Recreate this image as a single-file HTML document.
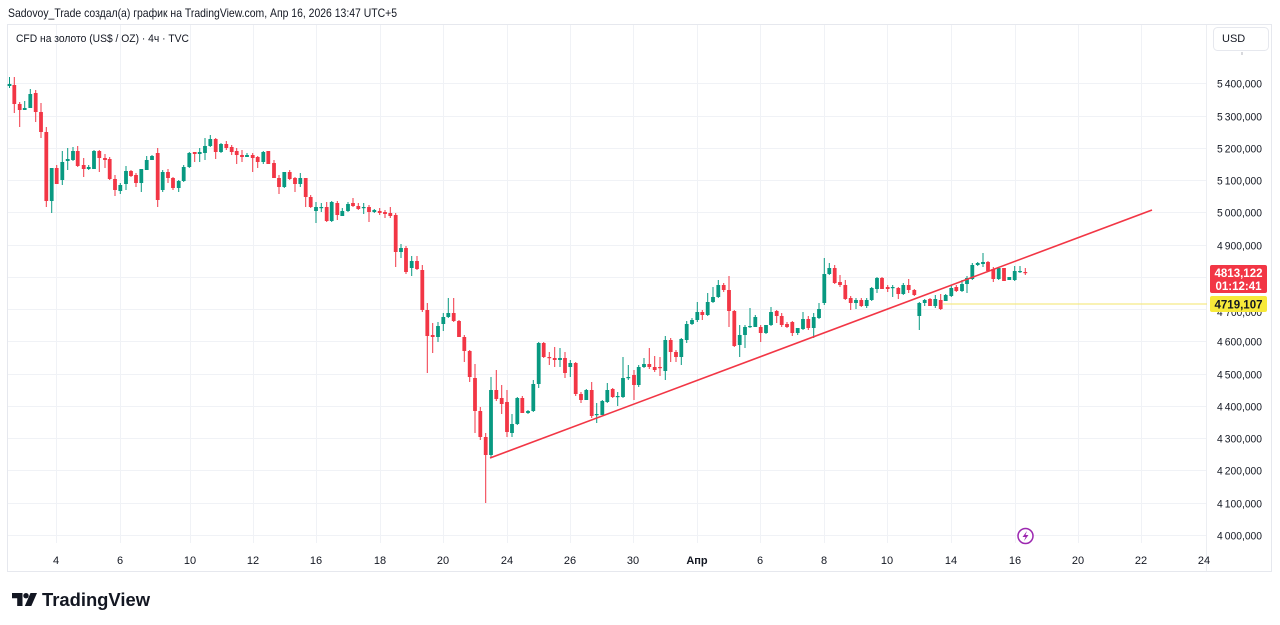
<!DOCTYPE html>
<html><head><meta charset="utf-8"><style>
html,body{margin:0;padding:0;background:#fff;}
svg{display:block;font-family:"Liberation Sans","Noto Sans CJK SC",sans-serif;}
</style></head><body>
<svg id="c" width="1280" height="625" viewBox="0 0 1280 625" xmlns="http://www.w3.org/2000/svg">
<rect width="1280" height="625" fill="#fff"/>
<text x="8" y="17" font-size="12" fill="#131722" textLength="389" lengthAdjust="spacingAndGlyphs">Sadovoy_Trade создал(а) график на TradingView.com, Апр 16, 2026 13:47 UTC+5</text>
<rect x="7.5" y="24.5" width="1264" height="547" fill="none" stroke="#e6e8ee"/>
<g id="grid" stroke="#f0f2f6" stroke-width="1"></g>
<line x1="1206.5" y1="25" x2="1206.5" y2="571" stroke="#eceef2"/>
<text x="16" y="42" font-size="11" fill="#131722" textLength="173" lengthAdjust="spacingAndGlyphs">CFD на золото (US$ / OZ) · 4ч · TVC</text>
<g id="plabels" font-size="11" fill="#131722"></g>
<g id="tlabels" font-size="11" fill="#131722" text-anchor="middle"></g>
<line x1="943" y1="304" x2="1207" y2="304" stroke="#f3e66a" stroke-width="1"/>
<g id="candles"></g>
<line x1="490" y1="458" x2="1152" y2="210" stroke="#f23645" stroke-width="1.6"/>
<rect x="1213.5" y="27.5" width="55" height="23" rx="4" fill="#fff" stroke="#e6e8ee"/>
<text x="1222" y="42" font-size="11" fill="#131722">USD</text>
<line x1="1242" y1="52" x2="1242" y2="55" stroke="#b0b3bb"/>
<rect x="1210" y="265" width="57" height="28" rx="2" fill="#f23645"/>
<text x="1238.5" y="277" font-size="11.5" font-weight="bold" fill="#fff" text-anchor="middle">4813,122</text>
<text x="1238.5" y="290" font-size="11.5" font-weight="bold" fill="#fff" text-anchor="middle">01:12:41</text>
<text x="1217" y="316" font-size="11" fill="#131722" textLength="45" lengthAdjust="spacingAndGlyphs">4 700,000</text>
<rect x="1210" y="296" width="57" height="16" rx="2" fill="#f7e93a"/>
<text x="1238.5" y="308.5" font-size="11.5" font-weight="bold" fill="#131722" text-anchor="middle">4719,107</text>
<circle cx="1025.5" cy="536" r="7.5" fill="#fff" stroke="#9c27b0" stroke-width="1.5"/>
<path d="M1027 531 L1022.5 537 L1025.5 537 L1024 541 L1028.5 535 L1025.5 535 Z" fill="#9c27b0"/>
<g fill="#131722">
<path d="M12 593 H22.5 V606 H17.2 V598.3 H12 Z"/>
<circle cx="26" cy="595.7" r="2.7"/>
<path d="M30.5 593 H37 L31.3 606 H24.8 Z"/>
</g>
<text x="42" y="606" font-size="18" font-weight="bold" fill="#131722" textLength="108" lengthAdjust="spacingAndGlyphs">TradingView</text>
</svg>
<script>
(function(){
var NS="http://www.w3.org/2000/svg";
function el(t,a,p){var e=document.createElementNS(NS,t);for(var k in a)e.setAttribute(k,a[k]);if(p)p.appendChild(e);return e;}
var grid=document.getElementById('grid');
var pl=document.getElementById('plabels');
function py(p){return 535-(p-4000)*0.32254;}
for(var p=4000;p<=5400;p+=100){
  var y=Math.round(py(p))+0.5;
  el('line',{x1:8,y1:y,x2:1206,y2:y},grid);
  if(p!==4700&&p!==4800){
    var s=String(p);var t=s[0]+"\u2009"+s.slice(1)+",000";
    var tx=el('text',{x:1217,y:y+4,textLength:45,lengthAdjust:'spacingAndGlyphs'},pl);tx.textContent=t;
  }
}
var tl=[[56,"4"],[120,"6"],[190,"10"],[253,"12"],[316,"16"],[380,"18"],[443,"20"],[507,"24"],[570,"26"],[633,"30"],[697,"Апр"],[760,"6"],[824,"8"],[887,"10"],[951,"14"],[1015,"16"],[1078,"20"],[1141,"22"],[1204,"24"]];
var tg=document.getElementById('tlabels');
tl.forEach(function(d){
  var x=d[0]+0.5;
  if(d[0]<1200) el('line',{x1:x,y1:25,x2:x,y2:543},grid);
  var t=el('text',{x:d[0],y:564},tg);t.textContent=d[1];
  if(d[1]==="Апр"){t.setAttribute('font-weight','bold');}
});
var C=[
[9.5,84,86,77,88,'g'],[14.3,85,104,77,113,'r'],[19.7,104,110,102,127,'r'],[24.7,108,110,101,110,'g'],[30.3,94,108,89,108,'g'],[35.7,93,112,90,122,'r'],[41,112,132,103,138,'r'],[46.3,132,201,127,207,'r'],[51.7,168,201,168,213,'g'],[56.7,168,184,165,184,'r'],
[62.3,162,180,151,185,'g'],[67.7,159,161,148,170,'g'],[73,151,160,147,161,'g'],[77.7,151,166,146,167,'r'],[83.7,165,169,158,177,'r'],[88.7,167,169,165,170,'g'],[94,151,169,150,169,'g'],[99.3,151,158,150,172,'r'],[105,158,160,154,168,'r'],[109.7,159,179,157,180,'r'],
[115,179,190,175,196,'r'],[120.3,185,191,183,194,'g'],[126,171,184,166,190,'g'],[131,171,176,170,177,'r'],[136,175,183,173,187,'r'],[141.3,169,183,169,192,'g'],[146.7,160,170,156,170,'g'],[152,156,160,155,160,'g'],[157.7,153,200,148,207,'r'],[162.7,172,190,170,192,'g'],
[168,172,178,169,183,'r'],[173,178,188,177,190,'r'],[178.7,181,188,180,192,'g'],[183.7,167,181,165,182,'g'],[189.3,153,167,152,168,'g'],[194.7,152,154,152,162,'r'],[199.7,152,154,148,162,'g'],[205,146,153,138,160,'g'],[210.3,139,146,135,147,'g'],[215.7,139,152,138,159,'r'],
[221,144,152,143,153,'g'],[226.3,144,148,141,150,'r'],[231.7,147,152,145,155,'r'],[236.7,151,155,148,164,'r'],[242,155,157,150,162,'r'],[247,155,157,153,157,'g'],[252.7,155,158,153,172,'r'],[257.7,157,162,156,168,'r'],[263.3,152,162,151,164,'g'],[268.3,151,164,151,164,'r'],
[274,163,178,160,178,'r'],[279,178,187,175,194,'r'],[284.3,172,187,172,188,'g'],[289.7,172,179,170,180,'r'],[295,178,184,177,192,'r'],[300.3,178,184,173,187,'g'],[305.7,178,197,178,207,'r'],[310.7,197,207,195,208,'r'],[316,207,211,202,223,'g'],[321.3,207,208,203,212,'g'],
[326.7,207,221,202,222,'r'],[331.7,202,221,201,222,'g'],[337.3,203,215,201,220,'r'],[342.3,211,216,208,216,'g'],[348,204,211,202,212,'g'],[353,203,206,198,207,'r'],[358.3,206,209,203,210,'r'],[363.7,207,208,203,214,'g'],[369,207,212,205,222,'r'],[374.3,210,212,209,213,'g'],
[379.7,211,213,208,215,'r'],[385,212,214,210,218,'r'],[390.3,213,216,207,218,'r'],[395.7,215,252,213,267,'r'],[401,248,252,244,258,'g'],[406,248,272,246,274,'r'],[411.7,261,268,256,276,'g'],[417,261,269,256,270,'r'],[422.3,270,310,265,312,'r'],[427.3,310,336,303,373,'r'],
[432.7,335,337,323,353,'r'],[438,326,337,322,342,'g'],[443.3,317,324,313,331,'g'],[448.3,313,317,298,318,'g'],[453.7,313,321,298,322,'r'],[459,321,337,320,337,'r'],[464.3,337,351,335,362,'r'],[469.7,351,377,350,382,'r'],[475,378,411,364,433,'r'],[480.3,411,437,407,440,'r'],
[485.7,437,455,433,503,'r'],[491,390,455,377,457,'g'],[496.3,390,399,370,401,'r'],[501.7,398,404,385,414,'r'],[507,402,432,390,437,'r'],[512,424,433,414,437,'g'],[517.3,398,424,397,425,'g'],[522.3,398,413,396,413,'r'],[528,411,413,410,414,'g'],[533.3,384,411,380,412,'g'],
[538.7,343,384,342,388,'g'],[543.7,343,357,342,358,'r'],[549.3,357,358,352,365,'r'],[554.7,358,360,347,367,'r'],[560,358,360,348,367,'g'],[565,358,373,352,378,'r'],[570.3,363,367,360,377,'g'],[575.7,363,394,362,396,'r'],[581,394,400,392,403,'r'],[586.3,390,400,389,400,'g'],
[591.7,390,416,382,418,'r'],[596.7,414,415,403,423,'g'],[602.3,401,415,400,415,'g'],[607.3,390,402,383,403,'g'],[612.7,389,397,388,398,'r'],[617.7,396,397,392,406,'g'],[623,378,397,357,398,'g'],[628.3,377,378,365,380,'g'],[634,375,385,370,400,'r'],[638.7,367,385,365,387,'g'],
[644,364,367,358,368,'g'],[649.3,364,367,348,369,'r'],[654.7,367,370,356,372,'r'],[660,367,368,357,376,'r'],[665.3,340,371,336,380,'g'],[670.7,340,352,338,362,'r'],[676,352,357,350,362,'r'],[681.3,339,357,338,365,'g'],[686.7,324,340,321,343,'g'],[692,320,324,318,325,'g'],
[697.3,312,320,302,322,'g'],[702.3,312,315,310,320,'r'],[707.7,302,315,293,316,'g'],[713,297,302,287,303,'g'],[718.3,285,297,280,298,'g'],[723.7,285,290,283,292,'r'],[729,290,311,276,327,'r'],[734.3,311,346,310,347,'r'],[739.7,335,345,325,357,'g'],[745,327,335,325,348,'g'],
[750,326,327,308,328,'g'],[755.3,317,327,315,327,'g'],[760.7,327,333,325,342,'r'],[766,325,333,325,334,'g'],[771,312,325,307,326,'g'],[776.7,311,316,310,323,'r'],[781.7,316,325,313,327,'r'],[787,324,327,322,328,'r'],[792.3,322,333,321,336,'r'],[797.7,328,333,328,335,'g'],
[803,319,329,312,330,'g'],[808.3,319,328,316,330,'r'],[813.7,317,328,313,338,'g'],[819,309,318,303,319,'g'],[824.3,274,303,258,305,'g'],[829.3,268,274,263,275,'g'],[834.7,268,283,265,284,'r'],[840,282,285,275,287,'r'],[845.3,285,299,280,300,'r'],[850.7,298,303,296,310,'r'],
[856,300,303,298,309,'g'],[861.3,300,306,298,307,'r'],[866.7,300,306,298,308,'g'],[871.7,288,300,287,301,'g'],[877,278,289,277,293,'g'],[882,278,289,277,289,'r'],[887.7,287,289,285,292,'r'],[892.7,287,288,285,297,'g'],[898.3,288,294,287,299,'r'],[903.3,285,294,283,295,'g'],
[908.7,285,290,279,293,'r'],[914.3,290,295,289,296,'r'],[919.3,303,316,302,330,'g'],[924.7,300,303,299,306,'g'],[930,299,306,298,306,'r'],[935.3,299,306,295,308,'g'],[940.7,300,309,294,310,'r'],[945.7,295,301,294,301,'g'],[951.3,288,296,285,297,'g'],[956.3,287,291,285,292,'r'],
[962,284,291,280,292,'g'],[967,278,284,276,293,'g'],[972.3,265,279,263,280,'g'],[977.7,263,265,262,266,'g'],[983,262,264,253,267,'g'],[988,262,271,261,272,'r'],[993.3,269,279,267,282,'r'],[998.7,268,279,267,280,'g'],[1004,268,281,268,281,'r'],[1009.3,277,280,277,280,'g'],
[1014.7,271,280,266,281,'g'],[1020,271,272,266,273,'g'],[1025.3,272,273,268,275,'r']
];
var cg=document.getElementById('candles');
C.forEach(function(c){
  var col=c[5]==='g'?'#089981':'#f23645';
  var x=c[0];
  el('rect',{x:(x-0.5).toFixed(1),y:c[3],width:1,height:Math.max(1,c[4]-c[3]),fill:col},cg);
  var h=Math.max(1.2,c[2]-c[1]);
  el('rect',{x:(x-1.9).toFixed(1),y:c[1],width:3.8,height:h,fill:col},cg);
});
})();
</script>
</body></html>
